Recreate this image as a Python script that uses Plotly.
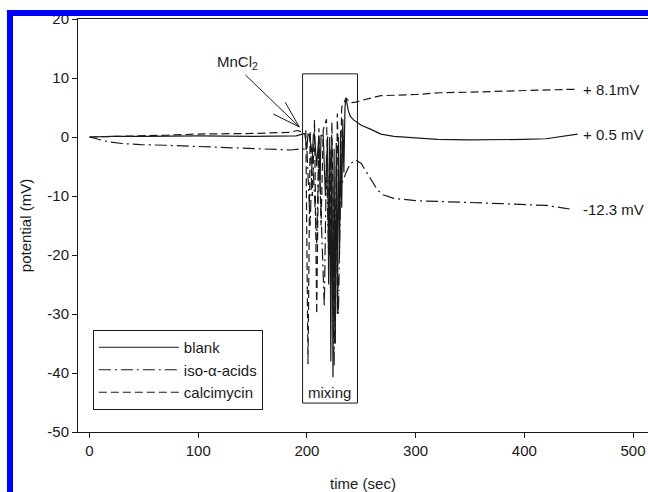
import plotly.graph_objects as go

# ---- data ----
blank_t = [0, 20, 50, 100, 150, 190, 196, 198, 200, 201, 202, 205, 206, 207, 209, 211, 212, 213, 215,
           217, 219, 220, 221, 222, 223, 224, 225, 226, 227, 228, 229, 230, 231, 232, 233, 234, 235,
           236, 238, 240, 243, 250, 260, 268, 280, 300, 320, 350, 380, 400, 420, 435, 449]
blank_v = [0, 0.1, 0.1, 0.2, 0.1, 0.2, 0.5, 0.6, -2, 0.5, 0.5, -3, 0.4, 0.4, -5, 0.3, -8, 0.3, 0.2,
           -10, 0.1, -25, 0, -38, -1, -40.7, -2, -35, -1, -30, 0, -20, 1, -12, 3, -6, 5,
           6.6, 4.5, 3.5, 2.9, 2, 1.2, 0.5, 0.1, -0.2, -0.4, -0.5, -0.5, -0.4, -0.3, 0.1, 0.5]

iso_t = [0, 10, 17, 30, 47, 70, 100, 130, 160, 185, 195, 200, 203, 205, 209, 211, 216, 218, 220,
         222, 225, 227, 229, 231, 232, 236, 240, 245, 250, 255, 260, 265, 270, 280, 300, 323, 350,
         380, 400, 420, 435, 445]
iso_v = [0, -0.5, -0.8, -1.1, -1.3, -1.4, -1.6, -1.8, -2.0, -2.2, -2.0, -2.1, -15, -2, -18, -2, -28.8, -3, -20,
         -2, -39, -5, -30, -8, -8, -6, -4.5, -3.9, -4.5, -6, -7.5, -9, -9.8, -10.4, -10.8, -10.9, -11.1,
         -11.3, -11.4, -11.6, -12.0, -12.3]

calc_t = [0, 30, 70, 100, 150, 185, 191, 195, 197, 199, 201, 203, 205, 207, 209, 211, 213, 215, 218,
          221, 223, 226, 228, 230, 232, 234, 236, 240, 245, 250, 260, 268, 300, 323, 350, 380, 400,
          425, 449]
calc_v = [0, 0.1, 0.3, 0.5, 0.6, 0.8, 1.1, 0.9, 1, 1, -38.5, 1, -10, 2.9, -30, 1.5, -15, 1.2, 3,
          -20, 2.5, -35, 4, -15, 5, 5.8, 6.6, 5.8, 5.9, 6.2, 6.6, 7.0, 7.2, 7.5, 7.6, 7.8, 7.9,
          8.0, 8.1]

series_names = ["blank", "iso-\u03b1-acids", "calcimycin"]
end_labels = ["+ 0.5 mV", "-12.3 mV", "+ 8.1mV"]

x_ticks = [0, 100, 200, 300, 400, 500]
y_ticks = [-50, -40, -30, -20, -10, 0, 10, 20]
y_ticktext = ["-50", "-40", "-30", "-20", "-10", "0", "10", "20"]

# annotation geometry (data units)
MIX_BOX = dict(x0=196, x1=246.5, y0=-45.1, y1=10.7)
MIX_LABEL = (221, -43.3)
MNCL2_TEXT = (136, 12.6)
ARROW_TIP = (193, 1.7)
ARROW_TAILS = [(143.5, 10.5), (180, 5.9), (169, 3.9)]
END_LABEL_T = 452

INK = "#1a1a1a"
FONT = "Liberation Sans, Arial, sans-serif"

fig = go.Figure()
styles = ["solid", "12px,4px,2px,4px", "8px,4px"]
data = [(blank_t, blank_v), (iso_t, iso_v), (calc_t, calc_v)]
for (t, v), name, dash in zip(data, series_names, styles):
    fig.add_trace(go.Scatter(x=t, y=v, mode="lines", name=name,
                             line=dict(color=INK, width=1.2, dash=dash)))

# end labels
for (t, v), lab in zip(data, end_labels):
    fig.add_annotation(x=END_LABEL_T, y=v[-1], text=lab, showarrow=False, xanchor="left",
                       yanchor="middle", font=dict(size=15, color=INK, family=FONT))

# mixing box
fig.add_shape(type="rect", xref="x", yref="y", line=dict(color=INK, width=1), **MIX_BOX)
fig.add_annotation(x=MIX_LABEL[0], y=MIX_LABEL[1], text="mixing", showarrow=False,
                   font=dict(size=15, color=INK, family=FONT))

# MnCl2 label and arrow
fig.add_annotation(x=MNCL2_TEXT[0], y=MNCL2_TEXT[1], text="MnCl<sub>2</sub>", showarrow=False,
                   font=dict(size=15, color=INK, family=FONT))
for tx, ty in ARROW_TAILS:
    fig.add_shape(type="line", xref="x", yref="y", x0=tx, y0=ty, x1=ARROW_TIP[0], y1=ARROW_TIP[1],
                  line=dict(color=INK, width=1))

# blue frame (decoration from the source page)
fig.add_shape(type="rect", xref="paper", yref="paper", x0=-0.1246, x1=1.01, y0=1.0073, y1=1.0218,
              line=dict(width=0), fillcolor="#0000FF", layer="above")
fig.add_shape(type="rect", xref="paper", yref="paper", x0=-0.1246, x1=-0.114, y0=-0.16, y1=1.0218,
              line=dict(width=0), fillcolor="#0000FF", layer="above")

fig.update_layout(
    width=648, height=492,
    margin=dict(l=78, r=0, t=19, b=60, autoexpand=False),
    paper_bgcolor="white", plot_bgcolor="white",
    font=dict(family=FONT, size=15, color=INK),
    showlegend=True,
    legend=dict(x=0.026, y=0.247, xanchor="left", yanchor="top",
                bordercolor=INK, borderwidth=1, bgcolor="white",
                font=dict(size=15, family=FONT, color=INK),
                itemwidth=80, tracegroupgap=0),
)
fig.update_xaxes(range=[-10.6, 513.8], tickvals=x_ticks, automargin=False,
                 showline=True, linecolor=INK, linewidth=1, mirror=True,
                 ticks="outside", ticklen=5, tickcolor=INK, showgrid=False, zeroline=False,
                 title=dict(text="time (sec)", standoff=30, font=dict(size=15)))
fig.update_yaxes(range=[-50, 20], tickvals=y_ticks, ticktext=y_ticktext, automargin=False,
                 showline=True, linecolor=INK, linewidth=1, mirror=False,
                 ticks="outside", ticklen=5, tickcolor=INK, showgrid=False, zeroline=False,
                 title=dict(text="potential (mV)", standoff=12, font=dict(size=15)))

fig.write_html("out.html")
